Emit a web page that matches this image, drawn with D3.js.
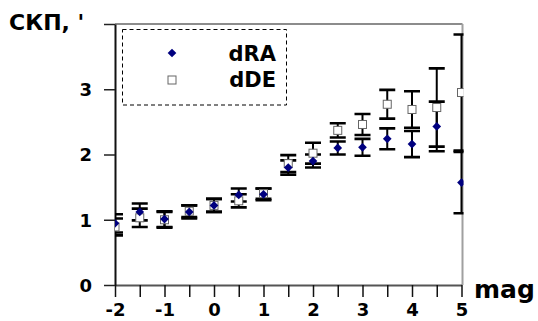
<!DOCTYPE html>
<html>
<head>
<meta charset="utf-8">
<script src="https://cdn.jsdelivr.net/npm/d3@7"></script>
<style>
  html, body { margin: 0; padding: 0; background: #fff; }
  svg { display: block; font-family: "DejaVu Sans", sans-serif; font-weight: bold; }
</style>
</head>
<body>
<svg id="chart" width="538" height="321"></svg>
<script>
// Stellar magnitude bins
const mag = [-2, -1.5, -1, -0.5, 0, 0.5, 1, 1.5, 2, 2.5, 3, 3.5, 4, 4.5, 5];
// RMS error in right ascension (arcmin) and its spread
const dRA    = [0.945, 1.12, 1.01, 1.12, 1.22, 1.38, 1.39, 1.80, 1.90, 2.10, 2.11, 2.24, 2.16, 2.43, 1.57];
const dRAerr = [0.14, 0.13, 0.12, 0.10, 0.10, 0.10, 0.09, 0.11, 0.10, 0.10, 0.13, 0.16, 0.20, 0.38, 0.47];
// RMS error in declination (arcmin) and its spread
const dDE    = [0.89, 1.03, 1.00, 1.13, 1.22, 1.29, 1.40, 1.86, 2.02, 2.37, 2.46, 2.77, 2.69, 2.72, 2.95];
const dDEerr = [0.13, 0.14, 0.12, 0.09, 0.10, 0.10, 0.08, 0.13, 0.16, 0.11, 0.16, 0.22, 0.28, 0.60, 0.89];

const xTicks = [-2, -1.5, -1, -0.5, 0, 0.5, 1, 1.5, 2, 2.5, 3, 3.5, 4, 4.5, 5];
const yTicks = [0, 1, 2, 3, 4];
const yLabels = [0, 1, 2, 3];

const svg = d3.select("#chart");
const plotL = 115, plotR = 461.5, plotT = 24, plotB = 285;

const x = d3.scaleLinear().domain([-2, 5]).range([plotL, plotR]);
const y = d3.scaleLinear().domain([0, 4]).range([plotB, plotT]);

// frame: grey top / right edges
svg.append("line").attr("x1", plotL).attr("x2", plotR + 1).attr("y1", plotT).attr("y2", plotT)
  .attr("stroke", "#8c8c8c").attr("stroke-width", 2);
svg.append("line").attr("x1", plotR + 1).attr("x2", plotR + 1).attr("y1", plotT).attr("y2", plotB)
  .attr("stroke", "#a0a0a0").attr("stroke-width", 2);

// axes
const xAxis = d3.axisBottom(x).tickValues(xTicks).tickSize(12).tickSizeOuter(0)
  .tickFormat(d => Number.isInteger(d) ? String(d) : "");
const gx = svg.append("g").attr("transform", `translate(0,${plotB})`).call(xAxis);
gx.select(".domain").attr("stroke", "#555").attr("stroke-width", 2);
gx.selectAll(".tick line").attr("stroke", "#111").attr("stroke-width", 1.5);
gx.selectAll(".tick text").attr("font-size", 18).attr("font-family", "DejaVu Sans")
  .attr("font-weight", "bold").attr("fill", "#000").attr("dy", "0.9em");

const yAxis = d3.axisLeft(y).tickValues(yTicks).tickSize(11).tickSizeOuter(0)
  .tickFormat(d => yLabels.includes(d) ? d : "");
const gy = svg.append("g").attr("transform", `translate(${plotL},0)`).call(yAxis);
gy.select(".domain").attr("stroke", "#111").attr("stroke-width", 2);
gy.selectAll(".tick line").attr("stroke", "#222").attr("stroke-width", 1.5);
gy.selectAll(".tick text").attr("font-size", 18).attr("font-family", "DejaVu Sans")
  .attr("font-weight", "bold").attr("fill", "#000").attr("x", -23).attr("dy", "0.36em");

// axis titles
svg.append("text").attr("x", 9).attr("y", 30).attr("font-size", 22).text("СКП, '");
svg.append("text").attr("x", 474).attr("y", 298).attr("font-size", 25).text("mag");

// plot area clip
svg.append("clipPath").attr("id", "plot").append("rect")
  .attr("x", plotL).attr("y", plotT - 2).attr("width", plotR - plotL + 2).attr("height", plotB - plotT + 4);
const plot = svg.append("g").attr("clip-path", "url(#plot)");

const capW = 8;
function errorBars(vals, errs) {
  const g = plot.append("g");
  mag.forEach((m, i) => {
    const cx = x(m), y0 = y(vals[i] - errs[i]), y1 = y(vals[i] + errs[i]);
    g.append("line").attr("x1", cx).attr("x2", cx).attr("y1", y0).attr("y2", y1)
      .attr("stroke", "#000").attr("stroke-width", 2);
    [y0, y1].forEach(yy => g.append("line").attr("x1", cx - capW).attr("x2", cx + capW)
      .attr("y1", yy).attr("y2", yy).attr("stroke", "#000").attr("stroke-width", 2.6));
  });
}
errorBars(dDE, dDEerr);
errorBars(dRA, dRAerr);

// square-proportioned diamond (a square turned by 45 degrees)
const diamond = d3.symbol().type(d3.symbolSquare).size(38);

plot.append("g").selectAll("rect").data(mag).join("rect")
  .attr("x", (d, i) => x(d) - 4).attr("y", (d, i) => y(dDE[i]) - 4)
  .attr("width", 8).attr("height", 8)
  .attr("fill", "#fff").attr("stroke", "#666").attr("stroke-width", 1);

plot.append("g").selectAll("path").data(mag).join("path")
  .attr("d", diamond)
  .attr("transform", (d, i) => `translate(${x(d)},${y(dRA[i])}) rotate(45)`)
  .attr("fill", "#00007f");

// legend
const lg = svg.append("g");
lg.append("rect").attr("x", 122.5).attr("y", 29.5).attr("width", 164).attr("height", 75.5)
  .attr("fill", "#fff").attr("stroke", "#000").attr("stroke-width", 1).attr("stroke-dasharray", "4,3");
lg.append("path").attr("d", diamond).attr("transform", "translate(172,53) rotate(45)").attr("fill", "#00007f");
lg.append("rect").attr("x", 168).attr("y", 76).attr("width", 8).attr("height", 8)
  .attr("fill", "#fff").attr("stroke", "#666").attr("stroke-width", 1);
lg.append("text").attr("x", 276).attr("y", 61).attr("text-anchor", "end").attr("font-size", 21).text("dRA");
lg.append("text").attr("x", 276).attr("y", 87).attr("text-anchor", "end").attr("font-size", 21).text("dDE");
</script>
</body>
</html>
